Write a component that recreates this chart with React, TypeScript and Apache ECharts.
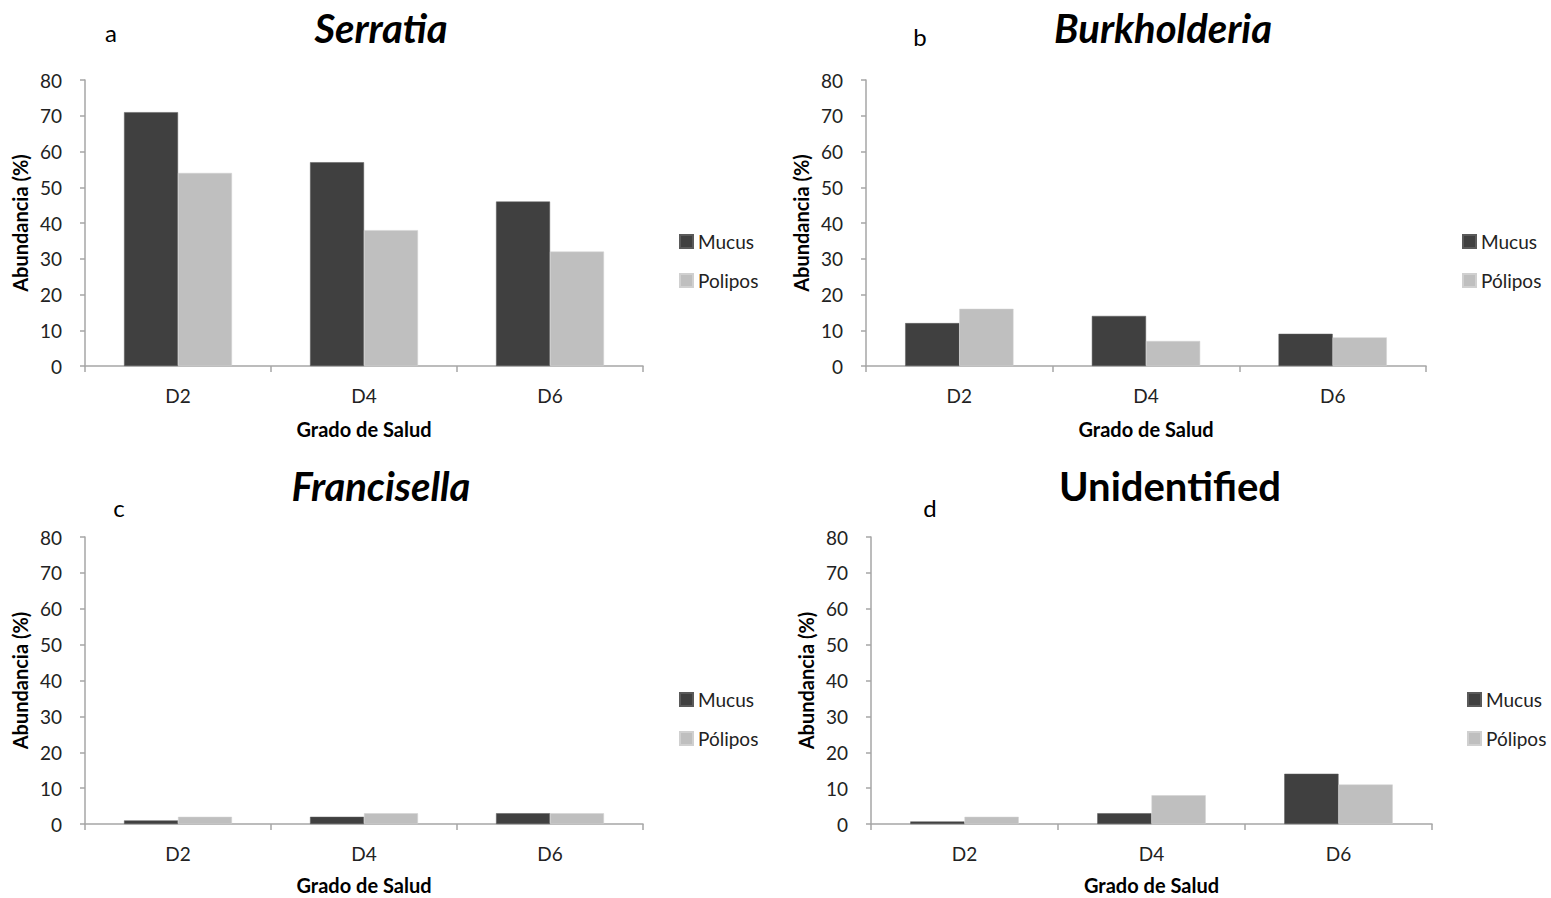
import React, { useEffect, useRef } from "react";
import * as echarts from "echarts";

const categories = ["D2", "D4", "D6"];

const serratiaMucus = [71, 57, 46];
const serratiaPolipos = [54, 38, 32];
const burkMucus = [12, 14, 9];
const burkPolipos = [16, 7, 8];
const franMucus = [1, 2, 3];
const franPolipos = [2, 3, 3];
const unidMucus = [0.7, 3, 14];
const unidPolipos = [2, 8, 11];

const panelTitles = ["Serratia", "Burkholderia", "Francisella", "Unidentified"];
const panelLetters = ["a", "b", "c", "d"];
const polName = ["Polipos", "Pólipos", "Pólipos", "Pólipos"];

const FONT = "Lato, 'Open Sans', sans-serif";
const MUCUS = "#404040";
const POL = "#bfbfbf";
const AXIS = "#a6a6a6";

export default function App() {
  const ref = useRef<HTMLDivElement>(null);
  useEffect(() => {
    document.body.style.margin = "0";
    const chart = echarts.init(ref.current!, null, { renderer: "svg" });
    const grids = [
      { left: 85, top: 80, width: 558, height: 286, outerBoundsMode: "none" },
      { left: 866, top: 80, width: 560, height: 286, outerBoundsMode: "none" },
      { left: 85, top: 537, width: 558, height: 287, outerBoundsMode: "none" },
      { left: 871, top: 537, width: 561, height: 287, outerBoundsMode: "none" },
    ];
    const data = [
      [serratiaMucus, serratiaPolipos],
      [burkMucus, burkPolipos],
      [franMucus, franPolipos],
      [unidMucus, unidPolipos],
    ];
    const titlePos = [
      { x: 381, y: 28 },
      { x: 1163, y: 28 },
      { x: 381, y: 486 },
      { x: 1170, y: 486 },
    ];
    const letterPos = [
      { x: 111, y: 32 },
      { x: 920, y: 36 },
      { x: 119, y: 507 },
      { x: 930, y: 507 },
    ];
    const legendPos = [
      { left: 674, top: 227 },
      { left: 1457, top: 227 },
      { left: 674, top: 685 },
      { left: 1462, top: 685 },
    ];
    const series: any[] = [];
    grids.forEach((_, i) => {
      series.push({
        type: "bar",
        name: "Mucus",
        xAxisIndex: i,
        yAxisIndex: i,
        data: data[i][0],
        barGap: "0%",
        barCategoryGap: "42%",
        itemStyle: { color: MUCUS, borderColor: "#5a5a5a", borderWidth: 0.5 },
      });
      series.push({
        type: "bar",
        name: polName[i],
        xAxisIndex: i,
        yAxisIndex: i,
        data: data[i][1],
        barGap: "0%",
        barCategoryGap: "42%",
        itemStyle: { color: POL, borderColor: "#d0d0d0", borderWidth: 0.5 },
      });
    });
    const graphics: any[] = [];
    grids.forEach((_, i) => {
      graphics.push({
        type: "text",
        x: titlePos[i].x,
        y: titlePos[i].y,
        style: {
          text: panelTitles[i],
          font: `${i === 3 ? "normal" : "italic"} bold 40px ${FONT}`,
          fill: "#000",
          align: "center",
          verticalAlign: "middle",
        },
      });
      graphics.push({
        type: "text",
        x: letterPos[i].x,
        y: letterPos[i].y,
        style: {
          text: panelLetters[i],
          font: `24px ${FONT}`,
          fill: "#000",
          align: "center",
          verticalAlign: "middle",
        },
      });
    });
    chart.setOption({
      animation: false,
      backgroundColor: "#fff",
      grid: grids,
      legend: grids.map((_, i) => ({
        orient: "vertical",
        left: legendPos[i].left,
        top: legendPos[i].top,
        data: ["Mucus", polName[i]],
        itemWidth: 13,
        itemHeight: 13,
        itemGap: 20,
        icon: "rect",
        selectedMode: false,
        textStyle: { fontFamily: FONT, fontSize: 19, color: "#222" },
      })),
      xAxis: grids.map((_, i) => ({
        type: "category",
        gridIndex: i,
        data: categories,
        name: "Grado de Salud",
        nameLocation: "middle",
        nameGap: i < 2 ? 54 : 52,
        nameTextStyle: { fontFamily: FONT, fontSize: 20, lineHeight: 18, fontWeight: "bold", color: "#000" },
        axisLine: { lineStyle: { color: AXIS, width: 1.5 } },
        axisTick: { show: true, length: 6, lineStyle: { color: AXIS, width: 1.5 } },
        axisLabel: { fontFamily: FONT, fontSize: 19, color: "#222", margin: 20 },
      })),
      yAxis: grids.map((_, i) => ({
        type: "value",
        gridIndex: i,
        min: 0,
        max: 80,
        interval: 10,
        name: "Abundancia (%)",
        nameLocation: "middle",
        nameRotate: 90,
        nameGap: 55,
        nameTextStyle: { fontFamily: FONT, fontSize: 20, fontWeight: "bold", color: "#000" },
        splitLine: { show: false },
        axisLine: { show: true, lineStyle: { color: AXIS, width: 1.5 } },
        axisTick: { show: true, length: 5, lineStyle: { color: AXIS, width: 1.5 } },
        axisLabel: { fontFamily: FONT, fontSize: 19, color: "#222", margin: 23 },
      })),
      series,
      graphic: graphics,
    });
    return () => chart.dispose();
  }, []);
  return <div ref={ref} style={{ width: 1551, height: 898 }} />;
}
